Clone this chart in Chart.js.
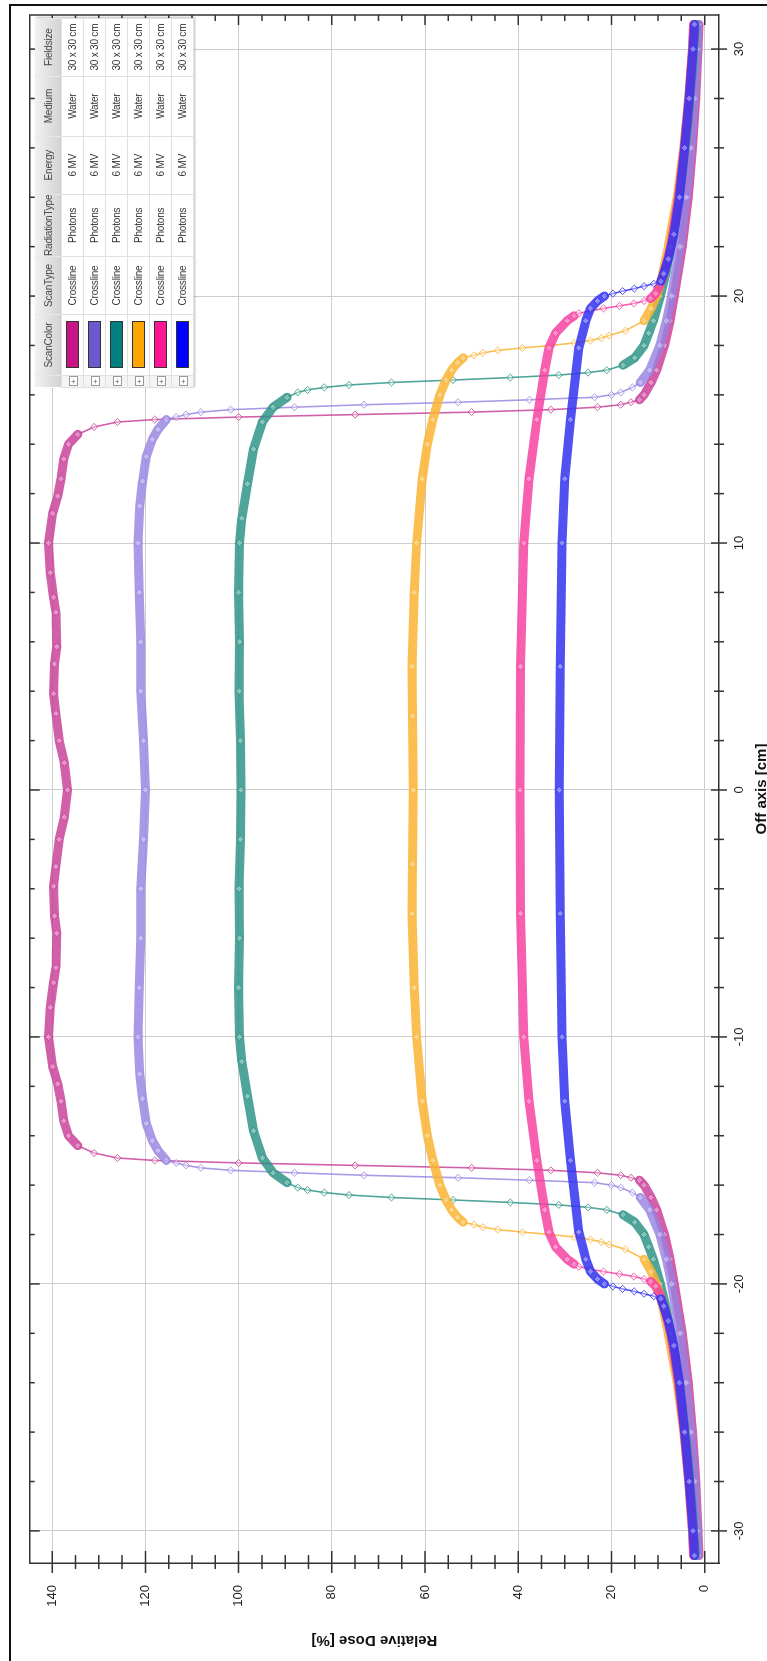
<!DOCTYPE html>
<html>
<head>
<meta charset="utf-8">
<script src="https://cdn.jsdelivr.net/npm/chart.js@4.4.0/dist/chart.umd.min.js"></script>
<style>
html, body { margin: 0; padding: 0; background: #fff; overflow: hidden; width: 767px; height: 1661px; }
#wrap { position: absolute; left: 0; top: 1661px; width: 1661px; height: 775px; transform-origin: 0 0; transform: rotate(-90deg); background: #fff; }
#c { position: absolute; left: 0; top: 0; }
#frame { position: absolute; left: 0; top: 9px; width: 1655px; height: 780px; border-top: 2px solid #111; border-right: 2px solid #111; }
#legend { position: absolute; left: 1273px; top: 35px; border-collapse: collapse; background: #fff; table-layout: fixed;
  font-family: "Liberation Sans Narrow", "Liberation Sans", sans-serif; font-size: 10px; letter-spacing: -0.2px; color: #333; box-shadow: 1px 1px 2px rgba(0,0,0,0.25); }
#legend th { height: 26px; padding: 0; font-weight: normal; color: #444; white-space: nowrap; background: linear-gradient(#f2f2f2, #d2d2d2); border-right: 1px solid #e8e8e8; }
#legend td { height: 21px; padding: 0; text-align: center; border: 1px solid #e0e0e0; white-space: nowrap; }
#legend td.plus { background: #f4f4f4; }
.btn { display: inline-block; width: 8px; height: 7px; line-height: 7px; border: 1px solid #999; font-size: 8px; color: #555; background: #fff; }
.sw { width: 45px; height: 11px; margin: 0 auto; border: 1px solid #333; }
</style>
</head>
<body>
<div id="wrap">
  <canvas id="c" width="1661" height="775"></canvas>
  <div id="frame"></div>
  <table id="legend"></table>
</div>
<script>
// tick labels
const offTicks = [-30, -20, -10, 0, 10, 20, 30]
const doseTicks = [0, 20, 40, 60, 80, 100, 120, 140]

// six crossline profiles, off axis [cm] vs relative dose [%]
const magentaOff = [-31, -30, -28, -26, -24, -22, -20, -19, -18, -17, -16.5, -16, -15.8, -15.7, -15.6, -15.5, -15.4, -15.3, -15.2, -15.1, -15.0, -14.9, -14.7, -14.4, -14.0,
  -13.4, -12.6, -11.9, -11.2, -10, -8.8, -7.8, -7.2, -5.8, -5.1, -3.9, -3.1, -2.0, -1.1, 0,
  1.1, 2.0, 3.1, 3.9, 5.1, 5.8, 7.2, 7.8, 8.8, 10, 11.2, 11.9, 12.6, 13.4,
  14.0, 14.4, 14.7, 14.9, 15.0, 15.1, 15.2, 15.3, 15.4, 15.5, 15.6, 15.7, 15.8, 16, 16.5, 17, 18, 19, 20, 22, 24, 26, 28, 30, 31]
const magentaDose = [1.2, 1.4, 1.9, 2.6, 3.5, 4.8, 6.5, 7.4, 8.6, 10.3, 11.5, 13.0, 14.0, 15.8, 18, 23, 33, 50, 75, 100, 118, 126, 131, 134.5, 136.5,
  137.5, 138.1, 138.8, 139.9, 140.8, 140.4, 139.7, 139.2, 139.0, 139.5, 139.7, 139.2, 138.5, 137.4, 136.7,
  137.4, 138.5, 139.2, 139.7, 139.5, 139.0, 139.2, 139.7, 140.4, 140.8, 139.9, 138.8, 138.1, 137.5,
  136.5, 134.5, 131, 126, 118, 100, 75, 50, 33, 23, 18, 15.8, 14.0, 13.0, 11.5, 10.3, 8.6, 7.4, 6.5, 4.8, 3.5, 2.6, 1.9, 1.4, 1.2]

const purpleOff = [-31, -30, -28, -26, -24, -22, -20, -19, -18, -17, -16.5, -16.3, -16.1, -16.0, -15.9, -15.8, -15.7, -15.6, -15.5, -15.4, -15.3, -15.2, -15.1, -15.0,
  -14.6, -14.2, -13.5, -12.5, -11.5, -10, -8, -6, -4, -2, 0, 2, 4, 6, 8, 10, 11.5, 12.5, 13.5, 14.2, 14.6,
  15.0, 15.1, 15.2, 15.3, 15.4, 15.5, 15.6, 15.7, 15.8, 15.9, 16.0, 16.1, 16.3, 16.5, 17, 18, 19, 20, 22, 24, 26, 28, 30, 31]
const purpleDose = [1.4, 1.6, 2.2, 3.0, 4.0, 5.3, 7.1, 8.2, 9.6, 11.8, 13.8, 15.5, 18.0, 20.0, 23.6, 37.6, 52.9, 73.1, 88, 101.7, 108.1, 111.3, 113.4, 115.5,
  117.3, 118.5, 119.8, 120.6, 121.2, 121.6, 121.3, 121.0, 121.0, 120.4, 120.0, 120.4, 121.0, 121.0, 121.3, 121.6, 121.2, 120.6, 119.8, 118.5, 117.3,
  115.5, 113.4, 111.3, 108.1, 101.7, 88, 73.1, 52.9, 37.6, 23.6, 20.0, 18.0, 15.5, 13.8, 11.8, 9.6, 8.2, 7.1, 5.3, 4.0, 3.0, 2.2, 1.6, 1.4]

const tealOff = [-31, -29, -27, -25, -23, -21, -20, -19, -18.5, -18, -17.5, -17.2, -17.0, -16.9, -16.8, -16.7, -16.6, -16.5, -16.4, -16.3, -16.2, -16.1,
  -15.9, -15.5, -14.9, -13.8, -12.4, -11, -10, -8, -6, -4, -2, 0, 2, 4, 6, 8, 10, 11, 12.4, 13.8, 14.9, 15.5, 15.9,
  16.1, 16.2, 16.3, 16.4, 16.5, 16.6, 16.7, 16.8, 16.9, 17.0, 17.2, 17.5, 18, 18.5, 19, 20, 21, 23, 25, 27, 29, 31]
const tealDose = [2.0, 2.7, 3.6, 4.8, 6.3, 8.2, 9.5, 11, 12, 13, 15, 17.5, 21, 25, 31.3, 41.7, 54, 67.2, 76.3, 81.6, 85.2, 87.3,
  89.6, 92.6, 94.9, 96.8, 98.1, 99.3, 99.8, 100.0, 99.8, 99.9, 99.6, 99.5, 99.6, 99.9, 99.8, 100.0, 99.8, 99.3, 98.1, 96.8, 94.9, 92.6, 89.6,
  87.3, 85.2, 81.6, 76.3, 67.2, 54, 41.7, 31.3, 25, 21, 17.5, 15, 13, 12, 11, 9.5, 8.2, 6.3, 4.8, 3.6, 2.7, 2.0]

const orangeOff = [-31, -30, -28, -26, -24, -22, -20.6, -20, -19.5, -19, -18.6, -18.4, -18.3, -18.2, -18.1, -18.0, -17.9, -17.8, -17.7, -17.6, -17.5,
  -17.3, -17, -16.6, -16, -15, -14, -12.6, -10, -8, -5, -3, 0, 3, 5, 8, 10, 12.6, 14, 15, 16, 16.6, 17, 17.3,
  17.5, 17.6, 17.7, 17.8, 17.9, 18.0, 18.1, 18.2, 18.3, 18.4, 18.6, 19, 19.5, 20, 20.6, 22, 24, 26, 28, 30, 31]
const orangeDose = [2.3, 2.6, 3.4, 4.5, 5.9, 7.8, 9.4, 10.3, 11.5, 13, 17, 20.5, 22.2, 24.5, 28, 33, 39.1, 44.4, 47.6, 49.5, 51.8,
  53, 54.3, 55.5, 56.8, 58.3, 59.5, 60.6, 61.8, 62.3, 62.8, 62.7, 62.5, 62.7, 62.8, 62.3, 61.8, 60.6, 59.5, 58.3, 56.8, 55.5, 54.3, 53,
  51.8, 49.5, 47.6, 44.4, 39.1, 33, 28, 24.5, 22.2, 20.5, 17, 13, 11.5, 10.3, 9.4, 7.8, 5.9, 4.5, 3.4, 2.6, 2.3]

const pinkOff = [-31, -30, -28, -26, -24, -22, -21, -20.5, -20.1, -19.9, -19.8, -19.7, -19.6, -19.5, -19.4, -19.3, -19.2, -19.0,
  -18.5, -17.9, -17, -15, -12.6, -10, -5, 0, 5, 10, 12.6, 15, 17, 17.9, 18.5,
  19.0, 19.2, 19.3, 19.4, 19.5, 19.6, 19.7, 19.8, 19.9, 20.1, 20.5, 21, 22, 24, 26, 28, 30, 31]
const pinkDose = [2.4, 2.6, 3.4, 4.4, 5.6, 7.3, 8.6, 9.5, 10.5, 11.6, 13, 15.2, 18.3, 21.7, 24.5, 27, 28, 29.5,
  32, 33.4, 34.3, 36, 37.7, 38.8, 39.5, 39.6, 39.5, 38.8, 37.7, 36, 34.3, 33.4, 32,
  29.5, 28, 27, 24.5, 21.7, 18.3, 15.2, 13, 11.6, 10.5, 9.5, 8.6, 7.3, 5.6, 4.4, 3.4, 2.6, 2.4]

const blueOff = [-31, -30, -28, -26, -24, -22.5, -21.5, -20.9, -20.6, -20.5, -20.4, -20.3, -20.2, -20.1, -20.0, -19.8, -19.5,
  -19, -17.9, -15, -12.6, -10, -5, 0, 5, 10, 12.6, 15, 17.9, 19,
  19.5, 19.8, 20.0, 20.1, 20.2, 20.3, 20.4, 20.5, 20.6, 20.9, 21.5, 22.5, 24, 26, 28, 30, 31]
const blueDose = [2.2, 2.5, 3.3, 4.3, 5.4, 6.6, 7.8, 8.8, 9.4, 10.9, 13, 15.1, 17.6, 19.7, 21.5, 23.0, 24.5,
  25.5, 27, 28.8, 30, 30.6, 31, 31.2, 31, 30.6, 30, 28.8, 27, 25.5,
  24.5, 23.0, 21.5, 19.7, 17.6, 15.1, 13, 10.9, 9.4, 8.8, 7.8, 6.6, 5.4, 4.3, 3.3, 2.5, 2.2]

// legend table text
const scanColors = ['#C71585', '#6A5ACD', '#008080', '#FFA500', '#FF1493', '#0000FF']
const bandColors = ['rgba(200,60,150,0.82)', 'rgba(150,130,225,0.82)', 'rgba(40,145,130,0.82)',
  'rgba(250,180,50,0.85)', 'rgba(245,60,160,0.82)', 'rgba(50,50,240,0.85)']
const headers = ['ScanColor', 'ScanType', 'RadiationType', 'Energy', 'Medium', 'Fieldsize']
const scanTypes = ['Crossline', 'Crossline', 'Crossline', 'Crossline', 'Crossline', 'Crossline']
const radiationTypes = ['Photons', 'Photons', 'Photons', 'Photons', 'Photons', 'Photons']
const energies = ['6 MV', '6 MV', '6 MV', '6 MV', '6 MV', '6 MV']
const media = ['Water', 'Water', 'Water', 'Water', 'Water', 'Water']
const fieldsizes = ['30 x 30 cm', '30 x 30 cm', '30 x 30 cm', '30 x 30 cm', '30 x 30 cm', '30 x 30 cm']

const offs = [magentaOff, purpleOff, tealOff, orangeOff, pinkOff, blueOff]
const doses = [magentaDose, purpleDose, tealDose, orangeDose, pinkDose, blueDose]

// ---- legend table ----
let colW = [12, 61, 58, 59, 58, 60, 58]
let html = '<colgroup>' + colW.map(w => `<col style="width:${w}px">`).join('') + '</colgroup>'
html += '<tr><th></th>' + headers.map(h => `<th>${h}</th>`).join('') + '</tr>'
for (let i in scanColors) {
  html += `<tr><td class="plus"><span class="btn">+</span></td><td><div class="sw" style="background:${scanColors[i]}"></div></td>` +
    `<td>${scanTypes[i]}</td><td>${radiationTypes[i]}</td><td>${energies[i]}</td><td>${media[i]}</td><td>${fieldsizes[i]}</td></tr>`
}
document.getElementById('legend').innerHTML = html

// ---- box, ticks on all four sides ----
const boxTicks = {
  id: 'boxTicks',
  afterDraw(chart) {
    const {ctx, chartArea: a, scales: {x, y}} = chart
    ctx.save()
    ctx.strokeStyle = '#333'
    ctx.lineWidth = 1.5
    ctx.beginPath()
    ctx.moveTo(a.left, a.top); ctx.lineTo(a.right, a.top); ctx.lineTo(a.right, a.bottom)
    // dose ticks every 5, long ones on the labelled values
    for (let d = doseTicks[0]; d <= doseTicks[doseTicks.length - 1]; d += 5) {
      const p = y.getPixelForValue(d)
      const major = doseTicks.includes(d)
      ctx.moveTo(a.left - (major ? 10 : 6), p); ctx.lineTo(a.left + (major ? 12 : 8), p)
      ctx.moveTo(a.right, p); ctx.lineTo(a.right - (major ? 10 : 6), p)
    }
    // off axis ticks every 2
    for (let o = offTicks[0]; o <= offTicks[offTicks.length - 1]; o += 2) {
      const p = x.getPixelForValue(o)
      const major = offTicks.includes(o)
      ctx.moveTo(p, a.bottom - (major ? 8 : 5)); ctx.lineTo(p, a.bottom + (major ? 8 : 5))
      ctx.moveTo(p, a.top); ctx.lineTo(p, a.top + (major ? 10 : 5))
    }
    ctx.stroke()
    ctx.restore()
  }
}

const tickFont = {family: 'Liberation Sans', size: 13}
const titleFont = {family: 'Liberation Sans', size: 15, weight: 'bold'}

let chart = new Chart(document.getElementById('c'), {
  type: 'scatter',
  data: {
    datasets: offs.map((o, i) => ({
      data: o.map((v, j) => ({x: v, y: doses[i][j]})),
      showLine: true,
      order: offs.length - 1 - i,
      borderColor: bandColors[i],
      borderCapStyle: 'round',
      borderJoinStyle: 'round',
      pointStyle: 'rectRot',
      pointRadius: 3.5,
      pointBorderWidth: 1,
      pointBorderColor: bandColors[i],
      pointBackgroundColor: 'rgba(255,255,255,0.35)',
      segment: {
        borderWidth: c => Math.abs(c.p1.y - c.p0.y) > 1.6 * Math.abs(c.p1.x - c.p0.x) ? 1.6 : 9
      }
    }))
  },
  options: {
    responsive: false,
    animation: false,
    devicePixelRatio: 1,
    layout: {padding: {top: 22, right: 15, bottom: 0, left: 0}},
    plugins: {legend: {display: false}, tooltip: {enabled: false}},
    scales: {
      x: {
        type: 'linear', min: -31.3, max: 31.38,
        afterFit: s => { s.height = 56 },
        afterBuildTicks: s => { s.ticks = offTicks.map(v => ({value: v})) },
        grid: {color: '#cdcdcd', drawTicks: false},
        border: {color: '#333', width: 1.5},
        ticks: {padding: 13, font: tickFont, color: '#222', maxRotation: 0, autoSkip: false},
        title: {display: true, text: 'Off axis [cm]', font: titleFont, color: '#111', padding: {top: 0, bottom: 4}}
      },
      y: {
        type: 'linear', min: -3.08, max: 144.8,
        afterFit: s => { s.width = 98 },
        afterBuildTicks: s => { s.ticks = doseTicks.map(v => ({value: v})) },
        grid: {color: '#cdcdcd', drawTicks: false},
        border: {color: '#333', width: 1.5},
        ticks: {padding: 22, font: tickFont, color: '#222', autoSkip: false},
        title: {display: true, text: 'Relative Dose [%]', font: titleFont, color: '#111', padding: {top: 12, bottom: 0}}
      }
    }
  },
  plugins: [boxTicks]
})
</script>
</body>
</html>
